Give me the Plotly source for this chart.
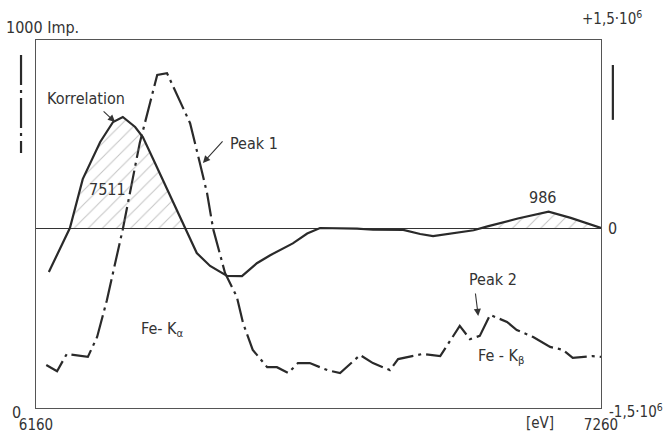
import numpy as np
import plotly.graph_objects as go

# ---- data ----
peak_ev = [6180, 6201, 6220, 6261, 6279, 6298, 6329, 6343, 6362, 6382, 6396, 6415,
           6440, 6460, 6479, 6493, 6505, 6528, 6551, 6563, 6582, 6610, 6629, 6651,
           6670, 6693, 6727, 6752, 6791, 6816, 6849, 6865, 6913, 6947, 6985, 7005,
           7024, 7044, 7077, 7096, 7128, 7161, 7186, 7205, 7244, 7260]
peak_imp = [117, 100, 147, 139, 193, 293, 486, 584, 720, 829, 905, 910,
            837, 774, 666, 584, 486, 367, 302, 231, 158, 111, 111, 95,
            122, 122, 103, 95, 144, 122, 103, 133, 147, 141, 223, 187,
            196, 253, 234, 212, 193, 166, 158, 136, 141, 139]

corr_ev = [6185, 6207, 6226, 6251, 6285, 6310, 6329, 6353, 6368, 6388, 6415, 6440,
           6450, 6473, 6499, 6532, 6561, 6590, 6616, 6641, 6660, 6688, 6713, 6785,
           6816, 6875, 6908, 6933, 6972, 7012, 7039, 7098, 7158, 7201, 7260]
corr_val = [-0.351, -0.168, 0.0, 0.39, 0.686, 0.846, 0.886, 0.806, 0.726, 0.551, 0.311, 0.09,
            0.0, -0.2, -0.303, -0.383, -0.384, -0.281, -0.217, -0.162, -0.123, -0.044, 0.0, -0.005,
            -0.014, -0.015, -0.048, -0.065, -0.042, -0.018, 0.013, 0.076, 0.13, 0.081, 0.0]  # x 10^6

x_ticks = [6160, 7260]
x_ticktext = ["6160", "7260"]
y_range = [0, 1000]
y2_range = [-1.436, 1.5]

INK = "#2a2a2a"
FONT = "DejaVu Sans Condensed, Liberation Sans Narrow, DejaVu Sans, sans-serif"
FS = 16


def positive_segments(xs, ys):
    xs = np.asarray(xs, float)
    ys = np.asarray(ys, float)
    segs = []
    cur_x, cur_y = [], []
    for i in range(len(xs)):
        if i > 0:
            y0, y1 = ys[i - 1], ys[i]
            if (y0 < 0 < y1) or (y0 > 0 > y1):
                xc = xs[i - 1] + (xs[i] - xs[i - 1]) * (-y0) / (y1 - y0)
                cur_x.append(xc); cur_y.append(0.0)
                if y1 < 0:
                    segs.append((cur_x, cur_y)); cur_x, cur_y = [], []
        if ys[i] >= 0:
            cur_x.append(xs[i]); cur_y.append(ys[i])
        elif cur_x:
            segs.append((cur_x, cur_y)); cur_x, cur_y = [], []
    if cur_x:
        segs.append((cur_x, cur_y))
    return [s for s in segs if len(s[0]) > 2 and max(s[1]) > 0.05]


fig = go.Figure()

for sx, sy in positive_segments(corr_ev, corr_val):
    fig.add_trace(go.Scatter(
        x=sx, y=sy, yaxis="y2", mode="lines", line=dict(width=0),
        fill="tozeroy", fillcolor="rgba(255,255,255,0)",
        fillpattern=dict(shape="/", fgcolor="#8a8a8a", bgcolor="rgba(255,255,255,0)",
                         size=10, solidity=0.1),
        hoverinfo="skip", showlegend=False))

fig.add_trace(go.Scatter(
    x=corr_ev, y=corr_val, yaxis="y2", mode="lines",
    line=dict(color=INK, width=2.2), name="Korrelation", showlegend=False))

fig.add_trace(go.Scatter(
    x=peak_ev, y=peak_imp, yaxis="y", mode="lines",
    line=dict(color=INK, width=2.2, dash="24px,5px,3px,5px"), name="Peak", showlegend=False))

fig.update_layout(
    width=664, height=436,
    margin=dict(l=36, r=63, t=40, b=28),
    paper_bgcolor="white", plot_bgcolor="white",
    font=dict(family=FONT, size=FS, color="#333"),
    xaxis=dict(range=[6160, 7260], showgrid=False, zeroline=False, automargin=False,
               showline=True, linecolor="#555", linewidth=1, mirror=True,
               tickvals=x_ticks, ticktext=x_ticktext, ticks="", ticklabelstandoff=3,
               tickfont=dict(size=15)),
    yaxis=dict(range=y_range, showgrid=False, zeroline=False, automargin=False,
               showline=True, linecolor="#555", linewidth=1, mirror=True,
               showticklabels=False, ticks=""),
    yaxis2=dict(range=y2_range, overlaying="y", side="right", showgrid=False, automargin=False,
                zeroline=True, zerolinecolor="#333", zerolinewidth=1.2,
                showline=False, tickvals=[0], ticktext=["0"], ticks="",
                ticklabelstandoff=6),
)

ann = []
def txt(x, y, s, xref="x", yref="y", size=FS, **kw):
    ann.append(dict(x=x, y=y, xref=xref, yref=yref, text=s, showarrow=False,
                    font=dict(size=size, family=FONT, color="#333"), **kw))

def arrow(x, y, ax, ay):
    ann.append(dict(x=x, y=y, xref="x", yref="y", text="", showarrow=True,
                    ax=ax, ay=ay, arrowhead=2, arrowsize=1.3, arrowwidth=1.1,
                    arrowcolor="#333"))

txt(0.0, 1.0, "1000 Imp.", xref="paper", yref="paper", xanchor="center", yanchor="bottom", xshift=6, yshift=1)
txt(0.0, 0.0, "0", xref="paper", yref="paper", xanchor="center", yanchor="middle", xshift=-20, yshift=-4)
txt(1.0, 1.0, "+1,5·10<sup>6</sup>", xref="paper", yref="paper", xanchor="center", yanchor="bottom", xshift=11, yshift=10, size=15)
txt(1.0, 0.0, "-1,5·10<sup>6</sup>", xref="paper", yref="paper", xanchor="left", yanchor="middle", xshift=6, yshift=-3, size=15)
txt(7141, 0.0, "[eV]", yref="paper", yanchor="top", yshift=-4, size=15)
txt(6257, 840, "Korrelation")
txt(6584, 720, "Peak 1")
txt(6300, 595, "7511")
txt(7147, 571, "986")
txt(7050, 350, "Peak 2")
txt(6405, 212, "Fe- K<sub>α</sub>")
txt(7065, 141, "Fe - K<sub>β</sub>")
arrow(6314, 777, -13, -12)
arrow(6485, 666, 21, -23)
arrow(7021, 250, -3, -24)
fig.update_layout(annotations=ann)

fig.update_layout(shapes=[
    dict(type="line", xref="paper", yref="paper", x0=-0.0265, x1=-0.0265, y0=0.959, y1=0.693,
         line=dict(color=INK, width=2.2, dash="30px,5px,3px,5px")),
    dict(type="line", xref="paper", yref="paper", x0=1.021, x1=1.021, y0=0.932, y1=0.783,
         line=dict(color=INK, width=2.2)),
])

fig.write_html("out.html", config={"displayModeBar": False},
               post_script="document.body.style.margin='0px';document.body.style.overflow='hidden';")
